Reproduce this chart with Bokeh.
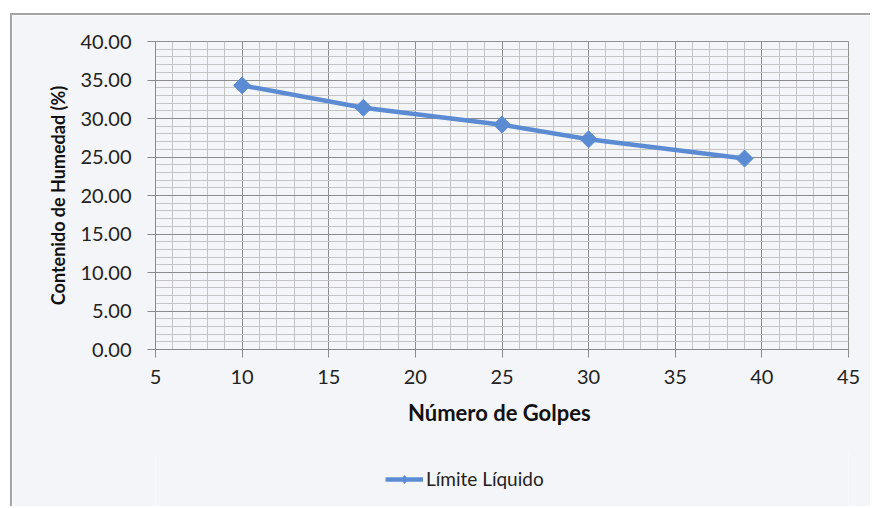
from math import pi

from bokeh.embed import file_html
from bokeh.layouts import column
from bokeh.models import (Legend, LegendItem, PrintfTickFormatter, Range1d,
                          SingleIntervalTicker)
from bokeh.plotting import figure
from bokeh.resources import INLINE

# Liquid limit test: blow count vs. moisture content
golpes = [10, 17, 25, 30, 39]
humedad = [34.3, 31.4, 29.2, 27.3, 24.8]

x_limits = (5, 45)
y_limits = (0, 40)
tick_step = 5
serie = "Límite Líquido"
x_title = "Número de  Golpes"
y_title = "Contenido de Humedad (%)"

BG = "#f4f5f8"
BLUE = "#5b8cd3"
RULE = "2px solid #a3a3a3"
FONT = "Lato"

# ---- chart ----
p = figure(width=860, height=440, output_backend="svg", toolbar_location=None,
           x_range=Range1d(*x_limits), y_range=Range1d(*y_limits),
           min_border_left=143, min_border_right=24,
           min_border_top=26, min_border_bottom=106,
           background_fill_color=BG, border_fill_color=BG)
p.styles = {"margin-left": "10px", "margin-top": "13px",
            "border-left": RULE, "border-top": RULE}
p.outline_line_color = "#8f8f8f"
p.outline_line_width = 1

for ax in (p.xaxis, p.yaxis):
    ax.ticker = SingleIntervalTicker(interval=tick_step, num_minor_ticks=5)
    ax.axis_line_color = "#8a8a8a"
    ax.major_tick_line_color = "#8a8a8a"
    ax.major_tick_out = 8
    ax.major_tick_in = 0
    ax.minor_tick_line_color = None
    ax.major_label_text_font = FONT
    ax.major_label_text_font_size = "20px"
    ax.major_label_text_color = "#222222"
    ax.axis_label_text_font = FONT
    ax.axis_label_text_font_style = "bold"
    ax.axis_label_text_color = "#111111"

p.xaxis.axis_label = x_title
p.yaxis.axis_label = y_title
p.xaxis.axis_label_text_font_size = "22px"
p.yaxis.axis_label_text_font_size = "18px"
p.yaxis.formatter = PrintfTickFormatter(format="%.2f")
p.xaxis.major_label_standoff = 12
p.yaxis.major_label_standoff = 16
p.xaxis.axis_label_standoff = 12
p.yaxis.axis_label_standoff = 8

for g in (p.xgrid, p.ygrid):
    g.grid_line_color = "#8c8c8c"
    g.grid_line_width = 1
    g.minor_grid_line_color = "#c4c4c4"
    g.minor_grid_line_width = 1

line_style = dict(line_color=BLUE, line_width=4.5)

p.line(golpes, humedad, **line_style)
p.scatter(golpes, humedad, marker="square", angle=pi / 4, size=12,
          fill_color=BLUE, line_color=BLUE)

# ---- legend strip under the chart ----
# the key renderers share the series' style; their ranges keep the series
# itself out of this strip so only the legend key is visible
leg = figure(width=860, height=55, output_backend="svg", toolbar_location=None,
             x_range=Range1d(-100, -99), y_range=Range1d(-100, -99),
             x_axis_type=None, y_axis_type=None,
             min_border=0, outline_line_color=None,
             background_fill_color=BG, border_fill_color=BG)
leg.grid.visible = False
leg.styles = {"margin-left": "10px", "margin-top": "-2px", "border-left": RULE}
key_line = leg.line(golpes, humedad, **line_style)
key_pts = leg.scatter(golpes, humedad, marker="diamond", size=17,
                      fill_color=BLUE, line_color=BLUE)

legend = Legend(items=[LegendItem(label=serie, renderers=[key_line, key_pts])],
                location=(230, 16), orientation="horizontal",
                glyph_width=38, glyph_height=20, label_height=20,
                label_standoff=3, padding=0, margin=0, spacing=0,
                background_fill_alpha=0, border_line_color=None,
                label_text_font=FONT, label_text_font_size="19px",
                label_text_color="#222222")
leg.add_layout(legend, "center")

page = column(p, leg, spacing=0)
open("out.html", "w").write(file_html(page, INLINE))
